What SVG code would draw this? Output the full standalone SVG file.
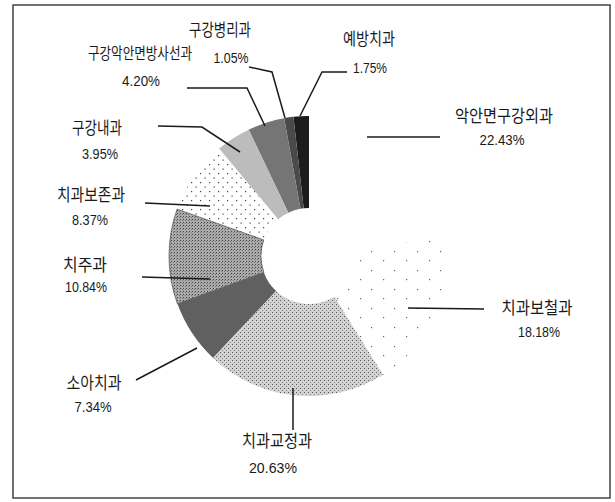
<svg xmlns="http://www.w3.org/2000/svg" width="615" height="502" viewBox="0 0 615 502">
<style>
.lbl{font-family:"Noto Sans CJK KR","Noto Sans CJK SC",sans-serif;font-size:17px;fill:#1a1a1a;text-anchor:middle}
.pct{font-family:"Liberation Sans",Arial,sans-serif;font-size:14px;fill:#1a1a1a;text-anchor:middle}
.ld{fill:none;stroke:#1a1a1a;stroke-width:1.5}
.edge{stroke:#333;stroke-width:0.6}
</style>
<defs>
<pattern id="dots" width="9" height="9" patternUnits="userSpaceOnUse">
<rect x="2" y="2" width="1.2" height="1.2" fill="#444"/>
<rect x="6.5" y="6.5" width="1.2" height="1.2" fill="#444"/>
</pattern>
<pattern id="sparse" width="23" height="19" patternUnits="userSpaceOnUse">
<rect x="3" y="4" width="1.2" height="1.2" fill="#666"/>
<rect x="15" y="13" width="1.2" height="1.2" fill="#666"/>
</pattern>
<pattern id="lightTex" width="4" height="4" patternUnits="userSpaceOnUse">
<rect width="4" height="4" fill="#d2d2d2"/>
<rect x="0" y="0" width="1" height="1" fill="#555"/>
<rect x="2" y="2" width="1" height="1" fill="#888"/>
</pattern>
<pattern id="midTex" width="3" height="3" patternUnits="userSpaceOnUse">
<rect width="3" height="3" fill="#ababab"/>
<rect x="0" y="0" width="1" height="1" fill="#444"/>
<rect x="2" y="1" width="1" height="1" fill="#777"/>
</pattern>
</defs>
<rect x="13" y="5" width="597" height="493" fill="#fff" stroke="#444" stroke-width="1.5"/>
<g id="pie">
<g id="slice-yebang"><path d="M309,116 A140,140 0 0 0 293.45,116.87 L303.67,208.30 A48,48 0 0 1 309,208 Z" fill="#1c1c1c"/></g>
<g id="slice-byeongri"><path d="M293.45,116.87 A140,140 0 0 0 284.18,118.21 L300.49,208.76 A48,48 0 0 1 303.67,208.30 Z" fill="#4a4a4a"/></g>
<g id="slice-bangsaseon"><path d="M284.18,118.21 A140,140 0 0 0 248.69,129.66 L288.32,212.68 A48,48 0 0 1 300.49,208.76 Z" fill="#757575"/></g>
<g id="slice-naegwa"><path d="M248.69,129.66 A140,140 0 0 0 219.16,148.62 L278.20,219.18 A48,48 0 0 1 288.32,212.68 Z" fill="#bcbcbc"/></g>
<g id="slice-bojon"><path d="M219.16,148.62 A140,140 0 0 0 177.08,209.13 L263.77,239.93 A48,48 0 0 1 278.20,219.18 Z" fill="url(#dots)"/></g>
<g id="slice-chiju"><path d="M177.08,209.13 A140,140 0 0 0 177.41,303.82 L263.88,272.40 A48,48 0 0 1 263.77,239.93 Z" fill="url(#midTex)" class="edge"/></g>
<g id="slice-soa"><path d="M177.41,303.82 A140,140 0 0 0 213.06,357.96 L276.11,290.95 A48,48 0 0 1 263.88,272.40 Z" fill="#606060"/></g>
<g id="slice-gyojeong"><path d="M213.06,357.96 A140,140 0 0 0 383.06,374.80 L334.39,296.73 A48,48 0 0 1 276.11,290.95 Z" fill="url(#lightTex)"/></g>
<g id="slice-bocheol"><path d="M383.06,374.80 A140,140 0 0 0 447.57,236.04 L356.51,249.16 A48,48 0 0 1 334.39,296.73 Z" fill="url(#sparse)"/></g>
<g id="slice-oekwa"><path d="M447.57,236.04 A140,140 0 0 0 309,116 L309,208 A48,48 0 0 1 356.51,249.16 Z" fill="#fff"/></g>
</g>
<g id="connectors">
<polyline class="ld" points="249,67 272,72 285,118"/>
<polyline class="ld" points="347,72 322,72 300,116"/>
<polyline class="ld" points="187,88 247,88 265,126"/>
<polyline class="ld" points="158,126 202,127 240,152"/>
<polyline class="ld" points="145,203 210,206"/>
<polyline class="ld" points="142,277 210,279"/>
<polyline class="ld" points="136,380 197,348"/>
<polyline class="ld" points="293,388 293,430"/>
<polyline class="ld" points="408,308 484,309"/>
<polyline class="ld" points="367,137 440,137"/>
</g>
<g id="label-byeongri"><text class="lbl" x="220" y="36" textLength="62" lengthAdjust="spacingAndGlyphs">구강병리과</text><text class="pct" x="231" y="63" textLength="35" lengthAdjust="spacingAndGlyphs">1.05%</text></g>
<g id="label-yebang"><text class="lbl" x="369" y="45" textLength="52" lengthAdjust="spacingAndGlyphs">예방치과</text><text class="pct" x="370" y="73" textLength="34" lengthAdjust="spacingAndGlyphs">1.75%</text></g>
<g id="label-bangsaseon"><text class="lbl" x="140" y="59" style="font-size:15.5px" textLength="104" lengthAdjust="spacingAndGlyphs">구강악안면방사선과</text><text class="pct" x="141" y="86" textLength="38" lengthAdjust="spacingAndGlyphs">4.20%</text></g>
<g id="label-oekwa"><text class="lbl" x="504" y="122" textLength="98" lengthAdjust="spacingAndGlyphs">악안면구강외과</text><text class="pct" x="502" y="145" textLength="45" lengthAdjust="spacingAndGlyphs">22.43%</text></g>
<g id="label-naegwa"><text class="lbl" x="97" y="134" textLength="50" lengthAdjust="spacingAndGlyphs">구강내과</text><text class="pct" x="100" y="159" textLength="36" lengthAdjust="spacingAndGlyphs">3.95%</text></g>
<g id="label-bojon"><text class="lbl" x="91" y="201" textLength="68" lengthAdjust="spacingAndGlyphs">치과보존과</text><text class="pct" x="90" y="225" textLength="36" lengthAdjust="spacingAndGlyphs">8.37%</text></g>
<g id="label-chiju"><text class="lbl" x="85" y="271" textLength="44" lengthAdjust="spacingAndGlyphs">치주과</text><text class="pct" x="86" y="292" textLength="42" lengthAdjust="spacingAndGlyphs">10.84%</text></g>
<g id="label-soa"><text class="lbl" x="94" y="389" textLength="55" lengthAdjust="spacingAndGlyphs">소아치과</text><text class="pct" x="93" y="412" textLength="37" lengthAdjust="spacingAndGlyphs">7.34%</text></g>
<g id="label-gyojeong"><text class="lbl" x="277" y="447" textLength="70" lengthAdjust="spacingAndGlyphs">치과교정과</text><text class="pct" x="273" y="473" textLength="48" lengthAdjust="spacingAndGlyphs">20.63%</text></g>
<g id="label-bocheol"><text class="lbl" x="537" y="314" textLength="71" lengthAdjust="spacingAndGlyphs">치과보철과</text><text class="pct" x="539" y="337" textLength="42" lengthAdjust="spacingAndGlyphs">18.18%</text></g>
</svg>
